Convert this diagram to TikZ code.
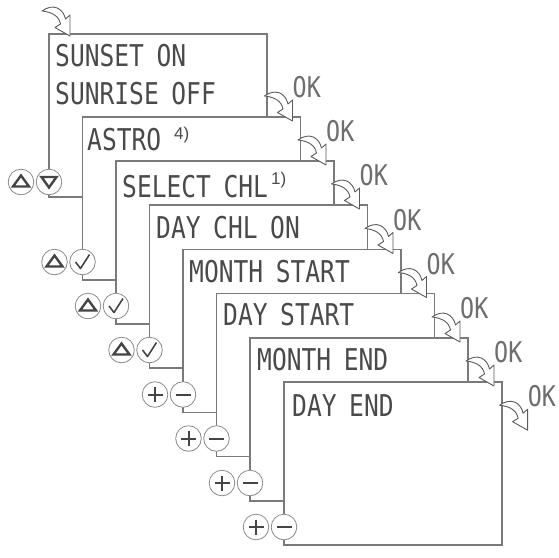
\documentclass[tikz,border=0pt]{standalone}
\usepackage{fontspec}
\newfontfamily\lcdfont[FakeStretch=0.82,WordSpace=0.85]{DejaVu Sans Mono}
\newfontfamily\supfont{Liberation Sans}
\definecolor{panelgray}{HTML}{7A7A7A}
\definecolor{txtgray}{HTML}{4A4A4A}
\definecolor{okgray}{HTML}{6E6E6E}
\definecolor{circgray}{HTML}{8A8A8A}
\definecolor{symgray}{HTML}{454545}
\definecolor{arrgray}{HTML}{5A5A5A}
\begin{document}
\begin{tikzpicture}[x=1pt,y=-1pt,
 panel/.style={draw=panelgray, line width=1.6pt, fill=white, rectangle, inner sep=0pt, outer sep=0pt,
   minimum width=218pt, minimum height=163pt, anchor=north west},
 lcd/.style={font=\lcdfont\fontsize{30}{32}\selectfont, text=txtgray, inner sep=0pt, anchor=base west},
 oklabel/.style={font=\lcdfont\fontsize{28.5}{30}\selectfont, text=okgray, inner sep=0pt, anchor=base west},
 suplabel/.style={font=\supfont\fontsize{17}{18}\selectfont, text=txtgray, inner sep=0pt, anchor=base west},
 btn/.style={circle, draw=circgray, line width=0.8pt, fill=white, minimum size=25.6pt, inner sep=0pt},
 sym/.style={draw=symgray, line width=2.4pt, line join=miter},
 btnup/.style={btn, path picture={\draw[sym] ([shift={(-8,4.5)}]path picture bounding box.center) -- ++(16,0) -- ++(-8,-11) -- cycle;}},
 btndown/.style={btn, path picture={\draw[sym] ([shift={(-7.5,-5)}]path picture bounding box.center) -- ++(15,0) -- ++(-7.5,10.5) -- cycle;}},
 btncheck/.style={btn, path picture={\draw[sym, line width=1.6pt, line join=round] ([shift={(-7,0)}]path picture bounding box.center) -- ++(5,6.5) -- ++(9,-14);}},
 btnplus/.style={btn, path picture={\draw[sym, line width=2pt] ([shift={(-7.5,0)}]path picture bounding box.center) -- ++(15,0) ([shift={(0,-7.5)}]path picture bounding box.center) -- ++(0,15);}},
 btnminus/.style={btn, path picture={\draw[sym, line width=2pt] ([shift={(-7.5,0)}]path picture bounding box.center) -- ++(15,0);}},
 arrowst/.style={draw=arrgray, line width=0.9pt, fill=white, line join=round},
 okarrow/.pic={\draw[arrowst] (-28,-25) .. controls (-17,-33) and (-7,-28) .. (-4.5,-17) -- (0,-21) -- (0,0) -- (-15,-8.5) -- (-9.5,-12) .. controls (-11,-20) and (-18,-24) .. (-28,-25) -- cycle;}
]
\useasboundingbox (0,0) rectangle (559,557);

% panels
\node[panel] (p1) at (49,34) {};
\node[panel] (p2) at (82.5,117) {};
\node[panel] (p3) at (116,161) {};
\node[panel] (p4) at (149.5,205) {};
\node[panel] (p5) at (183,249.5) {};
\node[panel] (p6) at (216.5,293.5) {};
\node[panel] (p7) at (250,338) {};
\node[panel] (p8) at (284,382) {};

% texts
\node[lcd] (t1a) at ([shift={(6,32)}]p1.north west) {SUNSET ON};
\node[lcd] (t1b) at ([shift={(6,70)}]p1.north west) {SUNRISE OFF};
\node[lcd] (t2) at ([shift={(4.5,33)}]p2.north west) {ASTRO};
\node[suplabel] (s2) at ([shift={(91.5,22)}]p2.north west) {4)};
\node[lcd] (t3) at ([shift={(6,36)}]p3.north west) {SELECT CHL};
\node[suplabel] (s3) at ([shift={(155,23)}]p3.north west) {1)};
\node[lcd] (t4) at ([shift={(6.5,33)}]p4.north west) {DAY CHL ON};
\node[lcd] (t5) at ([shift={(6,32.5)}]p5.north west) {MONTH START};
\node[lcd] (t6) at ([shift={(6.5,31.5)}]p6.north west) {DAY START};
\node[lcd] (t7) at ([shift={(7,32)}]p7.north west) {MONTH END};
\node[lcd] (t8) at ([shift={(8,34)}]p8.north west) {DAY END};

% buttons
\node[btndown] (b1r) at ([shift={(0,-15)}]p1.south west) {};
\node[btnup] (b1l) at ([shift={(-28,0)}]b1r.center) {};
\node[btncheck] (b2r) at ([shift={(0,-18)}]p2.south west) {};
\node[btnup] (b2l) at ([shift={(-28,0)}]b2r.center) {};
\node[btncheck] (b3r) at ([shift={(0,-18)}]p3.south west) {};
\node[btnup] (b3l) at ([shift={(-28,0)}]b3r.center) {};
\node[btncheck] (b4r) at ([shift={(0,-18)}]p4.south west) {};
\node[btnup] (b4l) at ([shift={(-28,0)}]b4r.center) {};
\node[btnminus] (b5r) at ([shift={(0,-18)}]p5.south west) {};
\node[btnplus] (b5l) at ([shift={(-28,0)}]b5r.center) {};
\node[btnminus] (b6r) at ([shift={(0,-18)}]p6.south west) {};
\node[btnplus] (b6l) at ([shift={(-28,0)}]b6r.center) {};
\node[btnminus] (b7r) at ([shift={(0,-18)}]p7.south west) {};
\node[btnplus] (b7l) at ([shift={(-28,0)}]b7r.center) {};
\node[btnminus] (b8r) at ([shift={(0,-18)}]p8.south west) {};
\node[btnplus] (b8l) at ([shift={(-28,0)}]b8r.center) {};

% arrow tips
\coordinate (a0) at ([shift={(21,2)}]p1.north west);
\coordinate (a1) at ([shift={(-8,4)}]p2.north east);
\coordinate (a2) at ([shift={(-8,4)}]p3.north east);
\coordinate (a3) at ([shift={(-8,4)}]p4.north east);
\coordinate (a4) at ([shift={(-8,4)}]p5.north east);
\coordinate (a5) at ([shift={(-8,4)}]p6.north east);
\coordinate (a6) at ([shift={(-8,4)}]p7.north east);
\coordinate (a7) at ([shift={(-8,4)}]p8.north east);
\coordinate (a8) at ([shift={(25.6,48.2)}]p8.north east);

\pic at (a0) {okarrow};
\foreach \k in {1,...,8}{
  \pic at (a\k) {okarrow};
  \node[oklabel] (ok\k) at ([shift={(0,-23.5)}]a\k) {OK};
}
\end{tikzpicture}
\end{document}
